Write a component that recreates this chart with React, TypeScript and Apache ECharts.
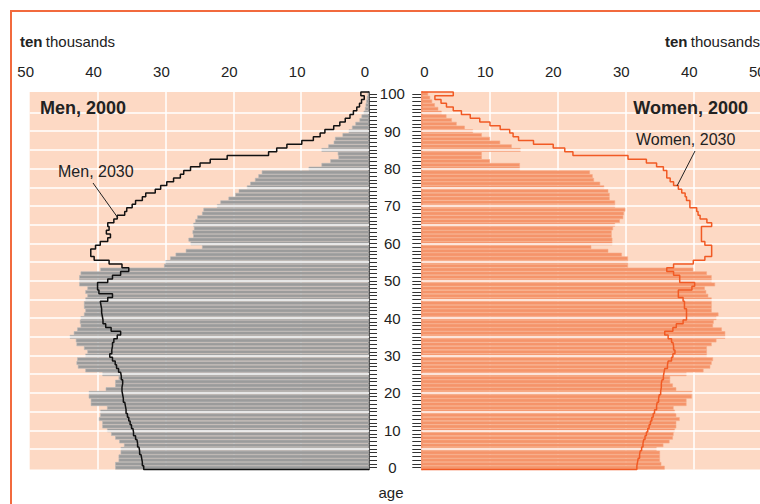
import { useEffect, useRef } from 'react';
import * as echarts from 'echarts';

// ages 0..100
const ages = [
  '0','1','2','3','4','5','6','7','8','9','10','11','12','13','14','15','16','17','18','19','20',
  '21','22','23','24','25','26','27','28','29','30','31','32','33','34','35','36','37','38','39','40',
  '41','42','43','44','45','46','47','48','49','50','51','52','53','54','55','56','57','58','59','60',
  '61','62','63','64','65','66','67','68','69','70','71','72','73','74','75','76','77','78','79','80',
  '81','82','83','84','85','86','87','88','89','90','91','92','93','94','95','96','97','98','99','100',
];

// ten thousands, index = age
const men2000 = [
  37.4, 37.4, 36.9, 36.9, 36.6, 36.6, 36.1, 36.8, 37.4, 38.0,
  38.6, 39.3, 39.3, 39.8, 39.6, 39.6, 38.6, 41.0, 41.0, 41.3,
  41.3, 38.8, 37.4, 37.4, 36.9, 39.3, 41.8, 42.9, 43.1, 43.0,
  41.8, 41.5, 42.0, 43.1, 43.2, 44.1, 43.5, 43.0, 42.5, 42.6,
  42.5, 42.0, 41.8, 42.0, 42.0, 41.8, 41.5, 41.8, 41.5, 42.7,
  42.7, 42.7, 42.5, 39.6, 30.2, 30.0, 29.3, 28.5, 27.0, 24.6,
  26.3, 26.6, 25.9, 26.0, 25.8, 25.9, 25.6, 25.3, 24.6, 24.4,
  22.4, 21.9, 20.7, 19.7, 19.2, 18.0, 17.5, 16.8, 16.3, 15.8,
  8.9, 7.0, 5.7, 4.5, 4.6, 7.0, 6.0, 5.2, 5.0, 3.9,
  3.0, 2.5, 2.0, 1.4, 1.1, 0.8, 0.6, 0.5, 0.4, 0.3,
  0.2,
];

const men2030 = [
  33.2, 33.4, 33.5, 33.6, 33.8, 33.9, 34.1, 34.2, 34.4, 34.7,
  34.8, 35.0, 35.2, 35.4, 35.6, 35.8, 35.9, 36.0, 36.2, 36.3,
  36.4, 36.4, 36.3, 36.3, 36.5, 36.6, 36.9, 37.2, 37.4, 37.8,
  38.2, 37.9, 37.8, 37.8, 37.6, 37.1, 36.6, 38.0, 38.8, 39.2,
  39.3, 39.4, 39.4, 39.5, 39.6, 38.5, 37.8, 39.8, 40.0, 40.0,
  38.5, 37.8, 36.6, 35.4, 36.4, 38.3, 40.5, 41.0, 41.0, 40.3,
  39.6, 38.5, 38.1, 38.7, 38.3, 38.5, 37.6, 37.1, 36.0, 35.7,
  34.9, 34.4, 33.4, 32.9, 31.5, 30.7, 29.8, 28.8, 27.8, 27.3,
  26.3, 24.9, 23.4, 20.9, 14.8, 13.6, 12.1, 9.9, 8.2, 7.2,
  6.5, 5.2, 4.3, 3.5, 2.8, 2.3, 1.8, 1.4, 1.1, 0.7,
  1.2,
];

const women2000 = [
  35.8, 35.3, 35.1, 35.1, 35.1, 34.6, 35.6, 36.5, 37.0, 37.1,
  37.3, 37.5, 37.5, 38.0, 37.5, 37.3, 37.1, 39.0, 39.0, 39.8,
  39.8, 37.5, 37.0, 36.6, 36.6, 39.0, 41.5, 42.5, 42.7, 42.9,
  42.0, 42.0, 42.0, 42.7, 43.4, 44.7, 44.7, 44.2, 42.9, 43.0,
  43.4, 43.7, 42.7, 42.7, 42.7, 42.7, 42.2, 41.9, 41.7, 43.2,
  42.7, 42.7, 42.0, 40.0, 30.4, 30.4, 30.4, 29.5, 27.5, 25.0,
  28.1, 28.1, 28.0, 28.0, 28.2, 28.5, 29.2, 29.7, 29.8, 30.0,
  28.5, 28.5, 27.7, 27.7, 27.5, 26.9, 26.3, 25.4, 25.2, 24.8,
  14.5, 14.5, 10.1, 8.9, 8.9, 14.6, 13.3, 11.6, 10.1, 8.9,
  7.6, 6.4, 5.2, 4.5, 3.7, 3.0, 2.5, 2.0, 1.6, 1.3,
  1.0,
];

const women2030 = [
  31.7, 31.8, 31.9, 32.1, 32.2, 32.4, 32.6, 32.7, 32.9, 33.1,
  33.3, 33.5, 33.7, 33.9, 34.1, 34.3, 34.6, 34.7, 34.9, 35.0,
  35.2, 35.3, 35.3, 35.4, 35.6, 35.7, 35.8, 36.2, 36.3, 36.8,
  37.0, 37.3, 37.1, 37.0, 36.8, 36.3, 35.8, 37.0, 37.5, 38.5,
  39.0, 39.0, 39.0, 38.7, 38.7, 38.5, 37.8, 37.8, 39.8, 40.2,
  38.0, 38.0, 37.1, 36.1, 37.1, 40.0, 41.7, 42.7, 42.7, 42.7,
  41.7, 41.2, 41.2, 41.2, 41.2, 42.7, 42.0, 41.0, 40.7, 40.5,
  39.5, 39.5, 39.0, 38.8, 38.3, 37.8, 37.1, 36.6, 36.1, 36.1,
  35.6, 34.6, 33.1, 30.4, 22.3, 21.1, 19.4, 16.5, 14.3, 13.5,
  13.0, 11.6, 10.1, 8.6, 7.2, 5.9, 4.7, 3.7, 2.9, 2.0,
  4.7,
];

const valueTicks = [0, 10, 20, 30, 40, 50];
const gridAges = ['5', '10', '15', '20', '25', '30', '35', '40', '45', '50', '55', '60', '65', '70', '75', '80', '85', '90', '95'];

const FONT = "'Liberation Sans', Arial, Helvetica, sans-serif";
const BG = '#fdd9c4';
const MEN_BAR = '#9b9b9b';
const WOMEN_BAR = '#f5946a';
const WOMEN_LINE = '#f15a24';
const FRAME = '#f26a3d';
const TEXT = '#222';

// outline of the 2030 population as a closed step path (age bands are one year wide)
function stepOutline(vals: number[]) {
  const pts: number[][] = [[0, -0.5]];
  vals.forEach((v, a) => {
    pts.push([v, a - 0.5], [v, a + 0.5]);
  });
  pts.push([0, vals.length - 0.5]);
  return pts;
}

export default function App() {
  const ref = useRef<HTMLDivElement>(null);

  useEffect(() => {
    if (!ref.current) return;
    const chart = echarts.init(ref.current, null, { renderer: 'svg' });

    const labelRich = {
      s: { fontSize: 15, color: TEXT, fontFamily: FONT, padding: [0, 8, 0, 0] },
      z: { fontSize: 15, color: TEXT, fontFamily: FONT, padding: [0, 0, 0, 6] },
    };

    const xAxisCommon = {
      type: 'value',
      min: valueTicks[0],
      max: valueTicks[valueTicks.length - 1],
      interval: 10,
      position: 'top',
      axisLine: { show: false },
      axisTick: { show: false },
      splitLine: {
        show: true,
        lineStyle: { color: ['rgba(0,0,0,0)', '#fff', '#fff', '#fff', '#fff', 'rgba(0,0,0,0)'], width: 1.5 },
      },
    };

    const gridLineSeries = (xi: number, yi: number) => ({
      type: 'line',
      xAxisIndex: xi,
      yAxisIndex: yi,
      data: [],
      z: 1,
      silent: true,
      markLine: {
        silent: true,
        symbol: 'none',
        label: { show: false },
        lineStyle: { color: '#fff', width: 1.5, type: 'solid' },
        data: gridAges.map((a) => ({ yAxis: a })),
      },
    });

    const option: any = {
      animation: false,
      grid: [
        { left: 29.7, top: 92, width: 339.3, height: 377.5, show: true, backgroundColor: BG, borderWidth: 0, outerBoundsMode: 'none', containLabel: false },
        { left: 421.3, top: 92, width: 340, height: 377.5, show: true, backgroundColor: BG, borderWidth: 0, outerBoundsMode: 'none', containLabel: false },
      ],
      xAxis: [
        {
          ...xAxisCommon,
          gridIndex: 0,
          inverse: true,
          axisLabel: { margin: 13, formatter: (v: number) => `{s|${v}}`, rich: labelRich },
        },
        {
          ...xAxisCommon,
          gridIndex: 1,
          axisLabel: { margin: 13, formatter: (v: number) => (v === 0 ? `{z|${v}}` : `{s|${v}}`), rich: labelRich },
        },
      ],
      yAxis: [
        {
          gridIndex: 0,
          type: 'category',
          data: ages,
          position: 'right',
          axisLine: { show: true, onZero: false, lineStyle: { color: '#111', width: 1.5 } },
          axisTick: { show: true, interval: 0, alignWithLabel: true, length: 8, lineStyle: { color: '#333', width: 1 } },
          axisLabel: { show: false },
          splitLine: { show: false },
        },
        {
          gridIndex: 1,
          type: 'category',
          data: ages,
          position: 'left',
          axisLine: { show: true, onZero: false, lineStyle: { color: WOMEN_LINE, width: 1.5 } },
          axisTick: { show: true, interval: 0, alignWithLabel: true, length: 9, lineStyle: { color: '#333', width: 1 } },
          axisLabel: { show: true, interval: 9, align: 'center', margin: 29, fontSize: 15, color: TEXT, fontFamily: FONT },
          splitLine: { show: false },
        },
        { gridIndex: 0, type: 'value', min: -0.5, max: 100.5, show: false, splitLine: { show: false } },
        { gridIndex: 1, type: 'value', min: -0.5, max: 100.5, show: false, splitLine: { show: false } },
      ],
      series: [
        gridLineSeries(0, 0),
        gridLineSeries(1, 1),
        {
          type: 'bar',
          name: 'Men, 2000',
          xAxisIndex: 0,
          yAxisIndex: 0,
          data: men2000,
          barCategoryGap: '0%',
          silent: true,
          z: 2,
          itemStyle: { color: MEN_BAR, borderColor: '#b9b9b9', borderWidth: 0.6 },
        },
        {
          type: 'bar',
          name: 'Women, 2000',
          xAxisIndex: 1,
          yAxisIndex: 1,
          data: women2000,
          barCategoryGap: '0%',
          silent: true,
          z: 2,
          itemStyle: { color: WOMEN_BAR, borderColor: '#f7ab88', borderWidth: 0.6 },
        },
        {
          type: 'line',
          name: 'Men, 2030',
          xAxisIndex: 0,
          yAxisIndex: 2,
          data: stepOutline(men2030),
          showSymbol: false,
          symbol: 'none',
          clip: false,
          silent: true,
          z: 5,
          lineStyle: { color: '#111', width: 1.5 },
        },
        {
          type: 'line',
          name: 'Women, 2030',
          xAxisIndex: 1,
          yAxisIndex: 3,
          data: stepOutline(women2030),
          showSymbol: false,
          symbol: 'none',
          clip: false,
          silent: true,
          z: 5,
          lineStyle: { color: WOMEN_LINE, width: 1.5 },
        },
      ],
      graphic: [
        {
          type: 'rect',
          silent: true,
          shape: { x: 11, y: 11, width: 900, height: 700 },
          style: { fill: 'none', stroke: FRAME, lineWidth: 2 },
        },
        {
          type: 'text',
          x: 20,
          y: 41,
          style: {
            text: '{b|ten} {n|thousands}',
            verticalAlign: 'middle',
            rich: {
              b: { fontWeight: 'bold', fontSize: 15, fontFamily: FONT, fill: TEXT },
              n: { fontSize: 15, fontFamily: FONT, fill: TEXT },
            },
          },
        },
        {
          type: 'text',
          x: 760,
          y: 41,
          style: {
            text: '{b|ten} {n|thousands}',
            align: 'right',
            verticalAlign: 'middle',
            rich: {
              b: { fontWeight: 'bold', fontSize: 15, fontFamily: FONT, fill: TEXT },
              n: { fontSize: 15, fontFamily: FONT, fill: TEXT },
            },
          },
        },
        {
          type: 'text',
          x: 40,
          y: 108,
          z: 10,
          style: { text: 'Men, 2000', fontWeight: 'bold', fontSize: 18, fontFamily: FONT, fill: TEXT, verticalAlign: 'middle' },
        },
        {
          type: 'text',
          x: 748,
          y: 108,
          z: 10,
          style: { text: 'Women, 2000', fontWeight: 'bold', fontSize: 18, fontFamily: FONT, fill: TEXT, align: 'right', verticalAlign: 'middle' },
        },
        {
          type: 'text',
          x: 58,
          y: 171,
          z: 10,
          style: { text: 'Men, 2030', fontSize: 16, fontFamily: FONT, fill: TEXT, verticalAlign: 'middle' },
        },
        {
          type: 'line',
          z: 10,
          shape: { x1: 93, y1: 183, x2: 118, y2: 218 },
          style: { stroke: '#222', lineWidth: 1 },
        },
        {
          type: 'text',
          x: 636,
          y: 139,
          z: 10,
          style: { text: 'Women, 2030', fontSize: 16, fontFamily: FONT, fill: TEXT, verticalAlign: 'middle' },
        },
        {
          type: 'line',
          z: 10,
          shape: { x1: 695, y1: 151, x2: 677, y2: 186 },
          style: { stroke: '#222', lineWidth: 1 },
        },
        {
          type: 'text',
          x: 391,
          y: 492,
          style: { text: 'age', fontSize: 15, fontFamily: FONT, fill: TEXT, align: 'center', verticalAlign: 'middle' },
        },
      ],
    };

    chart.setOption(option);
    return () => chart.dispose();
  }, []);

  return (
    <div
      ref={ref}
      style={{ position: 'fixed', left: 0, top: 0, width: 760, height: 504, background: '#fff' }}
    />
  );
}
